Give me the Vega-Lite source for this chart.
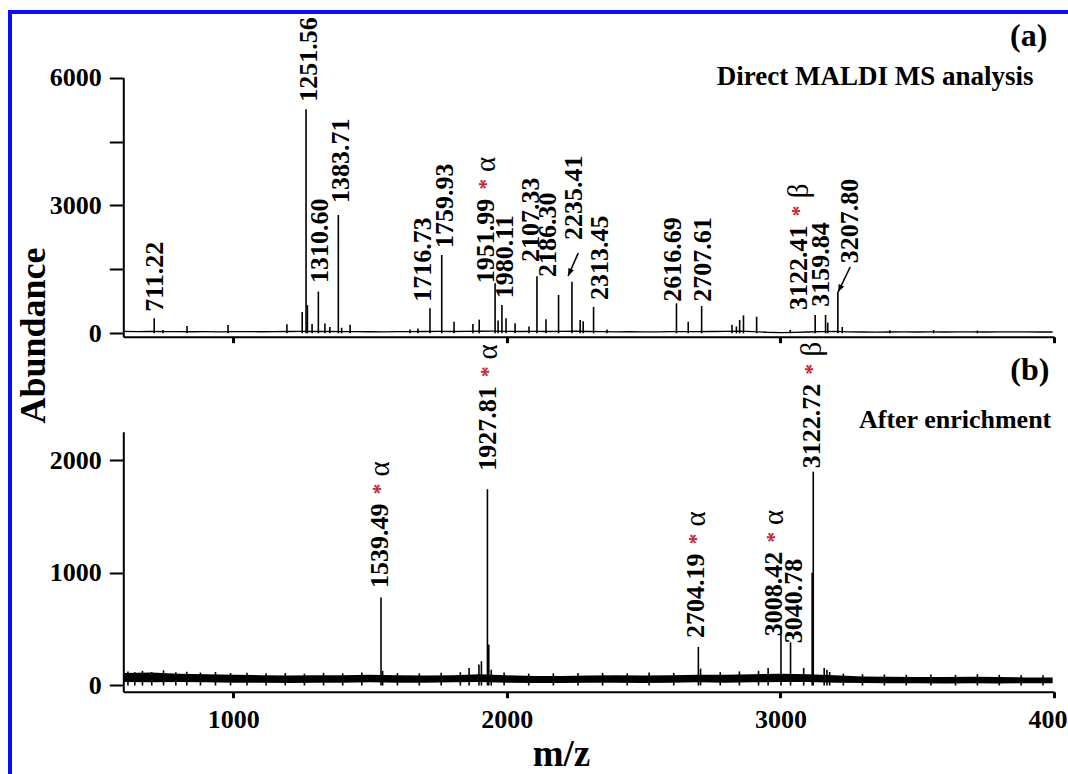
{
  "$schema": "https://vega.github.io/schema/vega-lite/v6.json",
  "width": 1058,
  "height": 762,
  "autosize": {"type": "none"},
  "padding": {"left": 10, "top": 12, "right": 0, "bottom": 0},
  "background": "white",
  "config": {
    "view": {"stroke": "#0d0dfa", "strokeWidth": 4, "strokeDash": [1058, 1820, 762, 10], "strokeCap": "square"},
    "font": "Liberation Serif",
    "axis": {
      "grid": false, "domainColor": "black", "tickColor": "black", "labelColor": "black", "titleColor": "black",
      "labelFont": "Liberation Serif", "labelFontWeight": "bold", "labelFontSize": 26,
      "domainWidth": 2, "tickWidth": 2, "labelFlush": false, "labelOverlap": false
    },
    "text": {"font": "Liberation Serif", "fontWeight": "bold", "color": "black"}
  },
  "datasets": {
    "base_a": [
      {"mz": 598, "ab": 45}, {"mz": 650, "ab": 40}, {"mz": 700, "ab": 42}, {"mz": 750, "ab": 38}, {"mz": 800, "ab": 40},
      {"mz": 850, "ab": 36}, {"mz": 900, "ab": 38}, {"mz": 950, "ab": 35}, {"mz": 1000, "ab": 38}, {"mz": 1050, "ab": 40},
      {"mz": 1100, "ab": 36}, {"mz": 1150, "ab": 38}, {"mz": 1200, "ab": 42}, {"mz": 1250, "ab": 45}, {"mz": 1300, "ab": 42},
      {"mz": 1350, "ab": 45}, {"mz": 1400, "ab": 40}, {"mz": 1450, "ab": 38}, {"mz": 1500, "ab": 36}, {"mz": 1550, "ab": 35},
      {"mz": 1600, "ab": 38}, {"mz": 1650, "ab": 40}, {"mz": 1700, "ab": 42}, {"mz": 1750, "ab": 45}, {"mz": 1800, "ab": 42},
      {"mz": 1850, "ab": 45}, {"mz": 1900, "ab": 48}, {"mz": 1950, "ab": 50}, {"mz": 2000, "ab": 45}, {"mz": 2050, "ab": 42},
      {"mz": 2100, "ab": 45}, {"mz": 2150, "ab": 42}, {"mz": 2200, "ab": 45}, {"mz": 2250, "ab": 48}, {"mz": 2300, "ab": 42},
      {"mz": 2350, "ab": 38}, {"mz": 2400, "ab": 35}, {"mz": 2450, "ab": 36}, {"mz": 2500, "ab": 34}, {"mz": 2550, "ab": 35},
      {"mz": 2600, "ab": 38}, {"mz": 2650, "ab": 40}, {"mz": 2700, "ab": 38}, {"mz": 2750, "ab": 42}, {"mz": 2800, "ab": 45},
      {"mz": 2850, "ab": 50}, {"mz": 2900, "ab": 40}, {"mz": 2950, "ab": 25}, {"mz": 3000, "ab": 18}, {"mz": 3050, "ab": 22},
      {"mz": 3100, "ab": 30}, {"mz": 3150, "ab": 40}, {"mz": 3200, "ab": 45}, {"mz": 3250, "ab": 35}, {"mz": 3300, "ab": 30},
      {"mz": 3350, "ab": 28}, {"mz": 3400, "ab": 30}, {"mz": 3450, "ab": 32}, {"mz": 3500, "ab": 30}, {"mz": 3550, "ab": 33},
      {"mz": 3600, "ab": 30}, {"mz": 3650, "ab": 32}, {"mz": 3700, "ab": 34}, {"mz": 3750, "ab": 30}, {"mz": 3800, "ab": 33},
      {"mz": 3850, "ab": 35}, {"mz": 3900, "ab": 32}, {"mz": 3950, "ab": 30}, {"mz": 3995, "ab": 30}
    ],
    "peaks_a": [
      {"mz": 711, "ab": 352}, {"mz": 743, "ab": 80}, {"mz": 831, "ab": 170}, {"mz": 981, "ab": 195}, {"mz": 1196, "ab": 210},
      {"mz": 1252, "ab": 500}, {"mz": 1266, "ab": 5257}, {"mz": 1271, "ab": 660}, {"mz": 1288, "ab": 220}, {"mz": 1311, "ab": 980},
      {"mz": 1335, "ab": 230}, {"mz": 1353, "ab": 150}, {"mz": 1384, "ab": 2777}, {"mz": 1396, "ab": 130}, {"mz": 1427, "ab": 200},
      {"mz": 1646, "ab": 90}, {"mz": 1675, "ab": 110}, {"mz": 1719, "ab": 587}, {"mz": 1762, "ab": 1838}, {"mz": 1807, "ab": 272},
      {"mz": 1876, "ab": 220}, {"mz": 1899, "ab": 320}, {"mz": 1957, "ab": 1173}, {"mz": 1968, "ab": 300}, {"mz": 1982, "ab": 664},
      {"mz": 1997, "ab": 355}, {"mz": 2030, "ab": 235}, {"mz": 2081, "ab": 160}, {"mz": 2110, "ab": 1340}, {"mz": 2143, "ab": 330},
      {"mz": 2189, "ab": 899}, {"mz": 2238, "ab": 1211}, {"mz": 2268, "ab": 312}, {"mz": 2279, "ab": 280}, {"mz": 2317, "ab": 620},
      {"mz": 2366, "ab": 90}, {"mz": 2620, "ab": 704}, {"mz": 2663, "ab": 272}, {"mz": 2712, "ab": 640}, {"mz": 2823, "ab": 200},
      {"mz": 2839, "ab": 160}, {"mz": 2851, "ab": 312}, {"mz": 2865, "ab": 420}, {"mz": 2913, "ab": 390}, {"mz": 3036, "ab": 80},
      {"mz": 3127, "ab": 430}, {"mz": 3165, "ab": 430}, {"mz": 3173, "ab": 250}, {"mz": 3210, "ab": 977}, {"mz": 3226, "ab": 150},
      {"mz": 3400, "ab": 70}, {"mz": 3560, "ab": 75}, {"mz": 3720, "ab": 65}
    ],
    "labels_a": [
      {"t": "711.22", "mz": 713.6, "ab": 507, "g": ""},
      {"t": "1251.56", "mz": 1277, "ab": 5436, "g": ""},
      {"t": "1310.60", "mz": 1317, "ab": 1180, "g": ""},
      {"t": "1383.71", "mz": 1394, "ab": 3058, "g": ""},
      {"t": "1716.73", "mz": 1694, "ab": 742, "g": ""},
      {"t": "1759.93", "mz": 1774, "ab": 2002, "g": ""},
      {"t": "1951.99", "mz": 1922, "ab": 1173, "g": "α"},
      {"t": "1980.11", "mz": 1994, "ab": 821, "g": ""},
      {"t": "2107.33", "mz": 2089, "ab": 1673, "g": ""},
      {"t": "2186.30", "mz": 2151, "ab": 1321, "g": ""},
      {"t": "2235.41", "mz": 2246, "ab": 2190, "g": ""},
      {"t": "2313.45", "mz": 2340, "ab": 782, "g": ""},
      {"t": "2616.69", "mz": 2607, "ab": 742, "g": ""},
      {"t": "2707.61", "mz": 2716, "ab": 742, "g": ""},
      {"t": "3122.41", "mz": 3067, "ab": 547, "g": "β"},
      {"t": "3159.84", "mz": 3149, "ab": 625, "g": ""},
      {"t": "3207.80", "mz": 3255, "ab": 1643, "g": ""}
    ],
    "arrows_a": [
      {"mz": 2261, "ab": 1885, "mz2": 2224, "ab2": 1345, "dir": 23.5},
      {"mz": 3255, "ab": 1556, "mz2": 3211, "ab2": 969, "dir": 25.6}
    ],
    "notes_a": [
      {"t": "(a)", "mz": 3976, "ab": 6743, "k": "head"},
      {"t": "Direct MALDI MS analysis", "mz": 3925, "ab": 5827, "k": "sub"}
    ],
    "band_b": [
      {"mz": 598, "lo": 30, "hi": 110}, {"mz": 700, "lo": 28, "hi": 115}, {"mz": 800, "lo": 30, "hi": 105},
      {"mz": 900, "lo": 28, "hi": 100}, {"mz": 1000, "lo": 25, "hi": 95}, {"mz": 1100, "lo": 25, "hi": 92},
      {"mz": 1200, "lo": 22, "hi": 88}, {"mz": 1300, "lo": 25, "hi": 90}, {"mz": 1400, "lo": 25, "hi": 92},
      {"mz": 1500, "lo": 28, "hi": 95}, {"mz": 1600, "lo": 25, "hi": 90}, {"mz": 1700, "lo": 25, "hi": 88},
      {"mz": 1800, "lo": 28, "hi": 92}, {"mz": 1900, "lo": 30, "hi": 100}, {"mz": 2000, "lo": 25, "hi": 90},
      {"mz": 2100, "lo": 22, "hi": 85}, {"mz": 2200, "lo": 22, "hi": 85}, {"mz": 2300, "lo": 25, "hi": 88},
      {"mz": 2400, "lo": 25, "hi": 90}, {"mz": 2500, "lo": 22, "hi": 88}, {"mz": 2600, "lo": 25, "hi": 92},
      {"mz": 2700, "lo": 28, "hi": 95}, {"mz": 2800, "lo": 25, "hi": 95}, {"mz": 2900, "lo": 28, "hi": 100},
      {"mz": 3000, "lo": 30, "hi": 105}, {"mz": 3100, "lo": 30, "hi": 100}, {"mz": 3200, "lo": 25, "hi": 90},
      {"mz": 3300, "lo": 22, "hi": 80}, {"mz": 3400, "lo": 20, "hi": 78}, {"mz": 3500, "lo": 20, "hi": 75},
      {"mz": 3600, "lo": 18, "hi": 75}, {"mz": 3700, "lo": 20, "hi": 78}, {"mz": 3800, "lo": 18, "hi": 75},
      {"mz": 3900, "lo": 20, "hi": 72}, {"mz": 3995, "lo": 20, "hi": 70}
    ],
    "peaks_b": [
      {"mz": 1540, "ab": 781}, {"mz": 1546, "ab": 130}, {"mz": 1862, "ab": 156}, {"mz": 1898, "ab": 186},
      {"mz": 1907, "ab": 215}, {"mz": 1929, "ab": 1741}, {"mz": 1934, "ab": 363}, {"mz": 1943, "ab": 140},
      {"mz": 2700, "ab": 343}, {"mz": 2708, "ab": 150}, {"mz": 2955, "ab": 156}, {"mz": 3002, "ab": 531},
      {"mz": 3037, "ab": 383}, {"mz": 3085, "ab": 156}, {"mz": 3116, "ab": 1000}, {"mz": 3120, "ab": 1897},
      {"mz": 3160, "ab": 156}, {"mz": 3170, "ab": 140},
      {"mz": 615, "ab": 125}, {"mz": 640, "ab": 118}, {"mz": 668, "ab": 130}, {"mz": 702, "ab": 120},
      {"mz": 745, "ab": 135}, {"mz": 790, "ab": 118}, {"mz": 830, "ab": 122}, {"mz": 880, "ab": 115},
      {"mz": 935, "ab": 120}, {"mz": 990, "ab": 110}, {"mz": 1050, "ab": 112}, {"mz": 1120, "ab": 108},
      {"mz": 1190, "ab": 110}, {"mz": 1260, "ab": 105}, {"mz": 1330, "ab": 112}, {"mz": 1400, "ab": 108},
      {"mz": 1470, "ab": 115}, {"mz": 1600, "ab": 110}, {"mz": 1680, "ab": 108}, {"mz": 1760, "ab": 112},
      {"mz": 1830, "ab": 118}, {"mz": 1990, "ab": 115}, {"mz": 2080, "ab": 105}, {"mz": 2170, "ab": 108},
      {"mz": 2260, "ab": 110}, {"mz": 2350, "ab": 112}, {"mz": 2440, "ab": 108}, {"mz": 2520, "ab": 115},
      {"mz": 2610, "ab": 112}, {"mz": 2780, "ab": 118}, {"mz": 2850, "ab": 125}, {"mz": 2920, "ab": 130},
      {"mz": 3180, "ab": 120}, {"mz": 3230, "ab": 105}, {"mz": 3300, "ab": 100}, {"mz": 3380, "ab": 98},
      {"mz": 3460, "ab": 95}, {"mz": 3550, "ab": 98}, {"mz": 3640, "ab": 95}, {"mz": 3720, "ab": 100},
      {"mz": 3800, "ab": 95}, {"mz": 3880, "ab": 92}, {"mz": 3960, "ab": 90}
    ],
    "labels_b": [
      {"t": "1539.49", "mz": 1538, "ab": 865, "g": "α"},
      {"t": "1927.81", "mz": 1930, "ab": 1904, "g": "α"},
      {"t": "2704.19", "mz": 2691, "ab": 422, "g": "α"},
      {"t": "3008.42", "mz": 2977, "ab": 436, "g": "α"},
      {"t": "3040.78", "mz": 3050, "ab": 375, "g": ""},
      {"t": "3122.72", "mz": 3117, "ab": 1927, "g": "β"}
    ],
    "notes_b": [
      {"t": "(b)", "mz": 3983, "ab": 2710, "k": "head"},
      {"t": "After enrichment", "mz": 3990, "ab": 2283, "k": "sub"}
    ]
  },
  "layer": [
    {
      "layer": [
        {
          "data": {"name": "base_a"},
          "mark": {"type": "line", "color": "black", "strokeWidth": 1.3},
          "encoding": {
            "x": {
              "field": "mz", "type": "quantitative",
              "scale": {"domain": [598, 4000], "range": [113.3, 1044], "nice": false, "zero": false},
              "axis": {"orient": "bottom", "offset": -437.3, "values": [1000, 2000, 3000, 4000], "labels": false, "tickSize": 6, "tickWidth": 3, "title": null}
            },
            "y": {
              "field": "ab", "type": "quantitative",
              "scale": {"domain": [-80, 6000], "range": [324.7, 65.7], "nice": false, "zero": false},
              "axis": {
                "orient": "left", "offset": -113.3, "values": [0, 1500, 3000, 4500, 6000], "format": "d",
                "labelExpr": "datum.value % 3000 === 0 ? datum.label : ''",
                "tickSize": 14, "labelPadding": 8,
                "title": "Abundance", "titleFont": "Liberation Serif", "titleFontSize": 36, "titleFontWeight": "bold",
                "titleAngle": 270, "titleBaseline": "alphabetic", "titleAlign": "center", "titleX": -79, "titleY": 323
              }
            }
          }
        },
        {
          "data": {"name": "peaks_a"},
          "mark": {"type": "rule", "color": "black", "strokeWidth": 1.6},
          "encoding": {"x": {"field": "mz", "type": "quantitative"}, "y": {"field": "ab", "type": "quantitative"}, "y2": {"datum": 0}}
        },
        {
          "data": {"name": "labels_a"},
          "mark": {"type": "text", "angle": 270, "align": "left", "baseline": "middle", "fontSize": 26},
          "encoding": {"x": {"field": "mz", "type": "quantitative"}, "y": {"field": "ab", "type": "quantitative"}, "text": {"field": "t"}}
        },
        {
          "data": {"name": "labels_a"},
          "transform": [{"filter": "datum.g !== ''"}],
          "mark": {"type": "text", "angle": 270, "align": "center", "baseline": "middle", "fontSize": 22, "dx": 99, "color": "#c1272d", "text": "*"},
          "encoding": {"x": {"field": "mz", "type": "quantitative"}, "y": {"field": "ab", "type": "quantitative"}}
        },
        {
          "data": {"name": "labels_a"},
          "transform": [{"filter": "datum.g !== ''"}],
          "mark": {"type": "text", "angle": 270, "align": "center", "baseline": "middle", "fontSize": 29, "dx": 119, "font": "Liberation Serif", "fontWeight": "normal"},
          "encoding": {"x": {"field": "mz", "type": "quantitative"}, "y": {"field": "ab", "type": "quantitative"}, "text": {"field": "g"}}
        },
        {
          "data": {"name": "arrows_a"},
          "mark": {"type": "rule", "color": "black", "strokeWidth": 1.6},
          "encoding": {
            "x": {"field": "mz", "type": "quantitative"}, "y": {"field": "ab", "type": "quantitative"},
            "x2": {"field": "mz2"}, "y2": {"field": "ab2"}
          }
        },
        {
          "data": {"name": "arrows_a"},
          "mark": {"type": "point", "shape": "M0,0L-0.6,-1.5L0.6,-1.5Z", "filled": true, "opacity": 1, "color": "black", "size": 100, "strokeWidth": 0},
          "encoding": {
            "x": {"field": "mz2", "type": "quantitative"}, "y": {"field": "ab2", "type": "quantitative"},
            "angle": {"field": "dir", "type": "quantitative", "scale": null}
          }
        },
        {
          "data": {"name": "notes_a"},
          "transform": [{"filter": "datum.k === 'head'"}],
          "mark": {"type": "text", "align": "right", "baseline": "alphabetic", "fontSize": 32},
          "encoding": {"x": {"field": "mz", "type": "quantitative"}, "y": {"field": "ab", "type": "quantitative"}, "text": {"field": "t"}}
        },
        {
          "data": {"name": "notes_a"},
          "transform": [{"filter": "datum.k === 'sub'"}],
          "mark": {"type": "text", "align": "right", "baseline": "alphabetic", "fontSize": 27},
          "encoding": {"x": {"field": "mz", "type": "quantitative"}, "y": {"field": "ab", "type": "quantitative"}, "text": {"field": "t"}}
        }
      ]
    },
    {
      "layer": [
        {
          "data": {"name": "band_b"},
          "mark": {"type": "area", "color": "black", "opacity": 1},
          "encoding": {
            "x": {
              "field": "mz", "type": "quantitative",
              "scale": {"domain": [598, 4000], "range": [113.3, 1044], "nice": false, "zero": false},
              "axis": {
                "orient": "bottom", "offset": -82.3, "values": [1000, 2000, 3000, 4000], "format": "d",
                "tickSize": 6, "tickWidth": 3, "labelPadding": 9,
                "title": "m/z", "titleFont": "Liberation Serif", "titleFontSize": 37, "titleFontWeight": "bold",
                "titleX": 551, "titleY": 74, "titleBaseline": "alphabetic", "titleAlign": "center"
              }
            },
            "y": {
              "field": "lo", "type": "quantitative",
              "scale": {"domain": [-55, 2251], "range": [679.7, 419.7], "nice": false, "zero": false},
              "axis": {"orient": "left", "offset": -113.3, "values": [0, 1000, 2000], "format": "d", "tickSize": 14, "labelPadding": 8, "title": null}
            },
            "y2": {"field": "hi"}
          }
        },
        {
          "data": {"name": "peaks_b"},
          "mark": {"type": "rule", "color": "black", "strokeWidth": 1.6},
          "encoding": {"x": {"field": "mz", "type": "quantitative"}, "y": {"field": "ab", "type": "quantitative"}, "y2": {"datum": 0}}
        },
        {
          "data": {"name": "labels_b"},
          "mark": {"type": "text", "angle": 270, "align": "left", "baseline": "middle", "fontSize": 26},
          "encoding": {"x": {"field": "mz", "type": "quantitative"}, "y": {"field": "ab", "type": "quantitative"}, "text": {"field": "t"}}
        },
        {
          "data": {"name": "labels_b"},
          "transform": [{"filter": "datum.g !== ''"}],
          "mark": {"type": "text", "angle": 270, "align": "center", "baseline": "middle", "fontSize": 22, "dx": 99, "color": "#c1272d", "text": "*"},
          "encoding": {"x": {"field": "mz", "type": "quantitative"}, "y": {"field": "ab", "type": "quantitative"}}
        },
        {
          "data": {"name": "labels_b"},
          "transform": [{"filter": "datum.g !== ''"}],
          "mark": {"type": "text", "angle": 270, "align": "center", "baseline": "middle", "fontSize": 29, "dx": 119, "font": "Liberation Serif", "fontWeight": "normal"},
          "encoding": {"x": {"field": "mz", "type": "quantitative"}, "y": {"field": "ab", "type": "quantitative"}, "text": {"field": "g"}}
        },
        {
          "data": {"name": "notes_b"},
          "transform": [{"filter": "datum.k === 'head'"}],
          "mark": {"type": "text", "align": "right", "baseline": "alphabetic", "fontSize": 32},
          "encoding": {"x": {"field": "mz", "type": "quantitative"}, "y": {"field": "ab", "type": "quantitative"}, "text": {"field": "t"}}
        },
        {
          "data": {"name": "notes_b"},
          "transform": [{"filter": "datum.k === 'sub'"}],
          "mark": {"type": "text", "align": "right", "baseline": "alphabetic", "fontSize": 26},
          "encoding": {"x": {"field": "mz", "type": "quantitative"}, "y": {"field": "ab", "type": "quantitative"}, "text": {"field": "t"}}
        }
      ]
    }
  ],
  "resolve": {
    "scale": {"x": "independent", "y": "independent"},
    "axis": {"x": "independent", "y": "independent"}
  }
}
